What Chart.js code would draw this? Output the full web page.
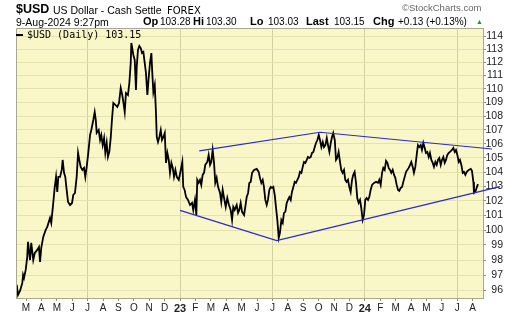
<!DOCTYPE html>
<html>
<head>
<meta charset="utf-8">
<script src="https://cdn.jsdelivr.net/npm/chart.js@4.4.1/dist/chart.umd.min.js"></script>
<style>
  body { margin: 0; background: #fff; }
  #wrap { position: relative; width: 520px; height: 318px; overflow: hidden; font-family: 'Liberation Sans', Arial, sans-serif; color: #000; }
  #wrap canvas { position: absolute; left: 0; top: 0; }
  .t { position: absolute; white-space: nowrap; line-height: 1; }
  .b { font-weight: bold; }
</style>
</head>
<body>
<div id="wrap">
  <canvas id="usdChart" width="520" height="318"></canvas>
  <span class="t b" style="left:16px;top:3.4px;font-size:12.5px">$USD</span>
  <span class="t" style="left:53px;top:5.1px;font-size:10.5px">US Dollar - Cash Settle</span>
  <span class="t" style="left:167px;top:5.5px;font-size:10px;font-family:'DejaVu Sans'">FOREX</span>
  <span class="t" style="left:402px;top:3px;font-size:9.5px;color:#666">©StockCharts.com</span>
  <span class="t" style="left:16px;top:16.6px;font-size:10.5px">9-Aug-2024 9:27pm</span>
  <span class="t b" style="left:143px;top:16.2px;font-size:11px">Op</span>
  <span class="t" style="left:160px;top:17px;font-size:10px">103.28</span>
  <span class="t b" style="left:193px;top:16.2px;font-size:11px">Hi</span>
  <span class="t" style="left:206px;top:17px;font-size:10px">103.30</span>
  <span class="t b" style="left:250px;top:16.2px;font-size:11px">Lo</span>
  <span class="t" style="left:268px;top:17px;font-size:10px">103.03</span>
  <span class="t b" style="left:306px;top:16.2px;font-size:11px">Last</span>
  <span class="t" style="left:334px;top:17px;font-size:10px">103.15</span>
  <span class="t b" style="left:373px;top:16.2px;font-size:11px">Chg</span>
  <span class="t" style="left:398px;top:17px;font-size:10px">+0.13 (+0.13%)</span>
  <span class="t" style="left:476px;top:18px;font-size:7px;color:#1a9a1a">▲</span>
  <span class="t" style="left:16px;top:33.5px;width:7px;height:2px;background:#000"></span>
  <span class="t" style="left:27px;top:30px;font-size:10px;font-family:'DejaVu Sans Mono'">$USD (Daily) 103.15</span>
</div>
<script>
// x = months since Jan 2022 (2 = Mar 2022, 12 = Jan 2023, 24 = Jan 2024)
const monthTicks = [2, 3, 4, 5, 6, 7, 8, 9, 10, 11, 12, 13, 14, 15, 16, 17, 18, 19, 20, 21, 22, 23, 24, 25, 26, 27, 28, 29, 30, 31];
const monthLabels = ['M', 'A', 'M', 'J', 'J', 'A', 'S', 'O', 'N', 'D', '23', 'F', 'M', 'A', 'M', 'J', 'J', 'A', 'S', 'O', 'N', 'D', '24', 'F', 'M', 'A', 'M', 'J', 'J', 'A'];
const priceTicks = [96, 97, 98, 99, 100, 101, 102, 103, 104, 105, 106, 107, 108, 109, 110, 111, 112, 113, 114];

const month = [
    1.40, 1.48, 1.61, 1.76, 1.81, 1.87, 1.98, 2.08, 2.13, 2.26,
    2.34, 2.47, 2.57, 2.73, 2.84, 2.91, 2.99, 3.12, 3.28, 3.38,
    3.56, 3.64, 3.77, 3.86, 3.95, 4.03, 4.10, 4.21, 4.32, 4.38,
    4.47, 4.55, 4.64, 4.73, 4.86, 4.99, 5.07, 5.18, 5.29, 5.38,
    5.46, 5.55, 5.66, 5.77, 5.85, 5.94, 6.03, 6.16, 6.24, 6.37,
    6.46, 6.53, 6.59, 6.72, 6.81, 6.89, 6.98, 7.07, 7.15, 7.24,
    7.32, 7.41, 7.50, 7.58, 7.67, 7.80, 7.93, 8.04, 8.15, 8.25,
    8.32, 8.41, 8.49, 8.62, 8.71, 8.80, 8.84, 8.97, 9.06, 9.14,
    9.19, 9.27, 9.36, 9.45, 9.53, 9.62, 9.71, 9.79, 9.88, 9.97,
    10.05, 10.14, 10.20, 10.27, 10.36, 10.44, 10.49, 10.57, 10.66, 10.75,
    10.83, 10.92, 11.01, 11.09, 11.18, 11.27, 11.35, 11.44, 11.53, 11.61,
    11.70, 11.79, 11.92, 12.05, 12.15, 12.21, 12.30, 12.39, 12.52, 12.65,
    12.78, 12.86, 12.97, 13.06, 13.12, 13.21, 13.30, 13.38, 13.47, 13.56,
    13.64, 13.77, 13.86, 13.95, 14.03, 14.12, 14.21, 14.29, 14.38, 14.47,
    14.60, 14.68, 14.77, 14.86, 14.97, 15.07, 15.18, 15.29, 15.38, 15.46,
    15.55, 15.68, 15.77, 15.85, 15.94, 16.03, 16.16, 16.24, 16.33, 16.42,
    16.50, 16.59, 16.68, 16.81, 16.98, 17.11, 17.19, 17.28, 17.37, 17.45,
    17.54, 17.63, 17.71, 17.80, 17.89, 17.97, 18.06, 18.15, 18.23, 18.32,
    18.41, 18.49, 18.58, 18.67, 18.75, 18.84, 18.93, 19.01, 19.10, 19.19,
    19.27, 19.36, 19.45, 19.53, 19.62, 19.71, 19.79, 19.88, 19.97, 20.05,
    20.14, 20.23, 20.31, 20.40, 20.49, 20.57, 20.66, 20.75, 20.83, 20.92,
    21.01, 21.09, 21.18, 21.27, 21.35, 21.44, 21.53, 21.61, 21.70, 21.79,
    21.87, 21.95, 22.05, 22.13, 22.21, 22.30, 22.39, 22.47, 22.56, 22.65,
    22.73, 22.82, 22.91, 22.99, 23.08, 23.17, 23.25, 23.34, 23.43, 23.51,
    23.60, 23.69, 23.77, 23.86, 23.95, 24.03, 24.12, 24.21, 24.29, 24.38,
    24.47, 24.60, 24.73, 24.86, 24.94, 25.03, 25.12, 25.20, 25.29, 25.38,
    25.47, 25.55, 25.64, 25.72, 25.81, 25.90, 25.98, 26.07, 26.16, 26.24,
    26.33, 26.42, 26.50, 26.59, 26.68, 26.76, 26.85, 26.94, 27.02, 27.11,
    27.19, 27.28, 27.37, 27.45, 27.54, 27.63, 27.71, 27.80, 27.89, 27.97,
    28.06, 28.15, 28.23, 28.32, 28.41, 28.49, 28.58, 28.67, 28.75, 28.84,
    28.93, 29.01, 29.10, 29.19, 29.27, 29.36, 29.45, 29.53, 29.66, 29.75,
    29.84, 29.92, 30.01, 30.10, 30.18, 30.27, 30.36, 30.44, 30.53, 30.62,
    30.75, 30.88, 30.96, 31.05, 31.09, 31.17, 31.26, 31.35
];
const close = [
    96.37, 95.72, 95.98, 96.50, 97.02, 96.82, 97.35, 98.21, 99.21, 98.00,
    99.14, 98.00, 98.47, 98.67, 98.87, 97.87, 98.81, 99.54, 100.01, 100.22,
    100.83, 100.49, 101.85, 102.89, 103.66, 102.61, 103.66, 103.66, 104.15, 104.85,
    103.94, 103.66, 102.75, 101.92, 101.71, 101.85, 102.40, 102.54, 103.66, 105.35,
    104.85, 104.36, 104.15, 104.29, 103.66, 104.36, 105.21, 106.63, 106.99, 107.72,
    108.30, 107.72, 106.78, 106.99, 106.27, 106.63, 105.91, 106.42, 105.35, 106.06,
    105.06, 105.42, 106.42, 107.72, 108.96, 108.82, 108.67, 108.96, 110.07, 109.55,
    109.04, 108.30, 109.70, 109.55, 110.44, 111.94, 113.47, 112.55, 112.17, 109.92,
    111.64, 112.93, 113.24, 113.08, 112.70, 112.78, 111.94, 111.19, 109.55, 110.89,
    111.94, 112.70, 111.19, 109.77, 110.29, 108.23, 106.49, 106.13, 106.49, 106.99,
    106.27, 106.49, 106.78, 104.64, 105.35, 104.85, 103.94, 104.64, 104.29, 103.66,
    104.15, 103.66, 103.45, 104.15, 104.71, 102.96, 102.75, 102.26, 102.06, 101.71,
    101.85, 101.37, 102.06, 101.03, 103.45, 103.24, 103.45, 103.10, 103.80, 103.94,
    104.50, 104.71, 105.21, 104.50, 104.71, 105.56, 104.64, 103.24, 103.59, 102.96,
    102.54, 101.92, 102.75, 102.19, 101.58, 102.19, 101.71, 101.37, 100.69, 101.58,
    101.37, 101.71, 101.17, 101.37, 101.85, 101.24, 101.03, 101.58, 102.26, 102.54,
    103.24, 103.31, 103.94, 104.15, 104.22, 104.01, 103.59, 103.24, 103.45, 102.96,
    102.06, 101.71, 102.06, 102.75, 102.96, 102.89, 102.96, 102.40, 101.58, 100.69,
    99.48, 99.81, 100.69, 100.49, 101.17, 101.24, 101.85, 102.06, 102.26, 102.06,
    102.61, 102.96, 103.31, 103.24, 103.45, 103.66, 104.01, 103.94, 104.36, 104.71,
    104.64, 104.85, 105.06, 104.99, 105.06, 105.35, 105.42, 105.77, 106.06, 106.27,
    106.63, 106.27, 105.77, 106.13, 105.77, 105.91, 106.42, 105.91, 105.42, 106.06,
    106.49, 106.78, 106.27, 104.85, 104.99, 105.42, 104.71, 104.15, 103.94, 104.15,
    103.45, 103.31, 103.45, 102.96, 102.61, 103.45, 103.80, 104.01, 103.24, 102.19,
    101.85, 102.06, 101.51, 100.69, 101.03, 102.06, 102.19, 102.06, 102.26, 102.75,
    103.10, 103.24, 103.31, 103.24, 103.45, 103.10, 103.94, 104.29, 104.15, 104.78,
    104.64, 104.29, 104.15, 103.94, 104.15, 103.80, 103.59, 103.10, 102.75, 102.68,
    102.89, 102.96, 103.31, 103.66, 104.01, 104.15, 104.29, 104.50, 104.71, 104.36,
    103.94, 104.36, 105.21, 105.91, 105.77, 105.91, 105.56, 106.06, 105.70, 105.35,
    105.42, 105.06, 105.35, 104.85, 104.64, 104.36, 104.71, 104.50, 104.85, 104.99,
    104.50, 104.85, 105.06, 104.64, 104.85, 105.21, 105.35, 105.42, 105.56, 105.70,
    105.42, 105.56, 105.21, 104.71, 104.85, 104.50, 103.94, 104.01, 103.80, 104.01,
    104.15, 104.22, 104.08, 103.31, 102.54, 102.61, 102.89, 103.15
];

// hand drawn trend lines (month, price)
const lowerTrendT = [12.0, 18.28, 32.78];
const lowerTrendV = [101.34, 99.29, 102.98];
const upperTrendT = [13.25, 21.09, 32.26];
const upperTrendV = [105.49, 106.83, 105.63];

const plotBg = '#f9f6c8';
const fontFam = "'Liberation Sans', Arial, sans-serif";

const plotFrame = {
    id: 'plotFrame',
    beforeDraw(chart) {
        const a = chart.chartArea, c = chart.ctx;
        c.save();
        c.fillStyle = plotBg;
        c.fillRect(a.left, a.top, a.right - a.left, a.bottom - a.top);
        c.restore();
    },
    afterDraw(chart) {
        const a = chart.chartArea, c = chart.ctx;
        c.save();
        c.strokeStyle = '#a8a890';
        c.lineWidth = 1;
        c.beginPath();
        c.moveTo(a.left + 0.5, a.bottom);
        c.lineTo(a.left + 0.5, a.top + 0.5);
        c.lineTo(a.right, a.top + 0.5);
        c.stroke();
        c.restore();
    }
};

const ctx = document.getElementById('usdChart').getContext('2d');
const usdChart = new Chart(ctx, {
    type: 'line',
    data: {
        datasets: [
            {
                label: 'lower trend',
                data: lowerTrendT.map((t, i) => ({ x: t, y: lowerTrendV[i] })),
                borderColor: '#2a2ac8', borderWidth: 1.2, pointRadius: 0, tension: 0,
                clip: { left: 0, top: 0, right: 20, bottom: 0 }
            },
            {
                label: 'upper trend',
                data: upperTrendT.map((t, i) => ({ x: t, y: upperTrendV[i] })),
                borderColor: '#2a2ac8', borderWidth: 1.2, pointRadius: 0, tension: 0,
                clip: { left: 0, top: 0, right: 20, bottom: 0 }
            },
            {
                label: '$USD (Daily)',
                data: month.map((t, i) => ({ x: t, y: close[i] })),
                borderColor: '#000', borderWidth: 1.8, pointRadius: 0, tension: 0
            }
        ]
    },
    options: {
        responsive: false,
        animation: false,
        devicePixelRatio: 1,
        layout: { padding: { left: 16, top: 28, right: 17, bottom: 0 } },
        plugins: { legend: { display: false }, tooltip: { enabled: false } },
        scales: {
            x: {
                type: 'linear', min: 1.35, max: 31.675, bounds: 'data',
                afterBuildTicks: (s) => { s.ticks = monthTicks.map(v => ({ value: v })); },
                afterFit: (s) => { s.height = 20; },
                grid: {
                    color: (c) => (c.tick && c.tick.value % 6 === 0) ? '#d2d0a0' : 'rgba(0,0,0,0)',
                    tickColor: '#8c8c78', tickLength: 3
                },
                border: { color: '#a8a890' },
                ticks: {
                    autoSkip: false, maxRotation: 0, padding: 1, color: '#222',
                    font: (c) => {
                        const yr = monthLabels[c.index] && monthLabels[c.index].length === 2;
                        return { family: fontFam, size: yr ? 11 : 10, weight: yr ? 'bold' : 'normal' };
                    },
                    callback: (v, i) => monthLabels[i]
                }
            },
            y: {
                type: 'logarithmic', position: 'right', min: 95.52, max: 114.62,
                afterBuildTicks: (s) => { s.ticks = priceTicks.map(v => ({ value: v })); },
                afterFit: (s) => { s.width = 20; },
                grid: { color: '#e6e2ae', tickColor: '#8c8c78', tickLength: 3 },
                border: { color: '#a8a890' },
                ticks: {
                    autoSkip: false, crossAlign: 'far', padding: 1, color: '#222',
                    font: { family: fontFam, size: 10.5 },
                    callback: (v) => String(v)
                }
            }
        }
    },
    plugins: [plotFrame]
});
</script>
</body>
</html>
